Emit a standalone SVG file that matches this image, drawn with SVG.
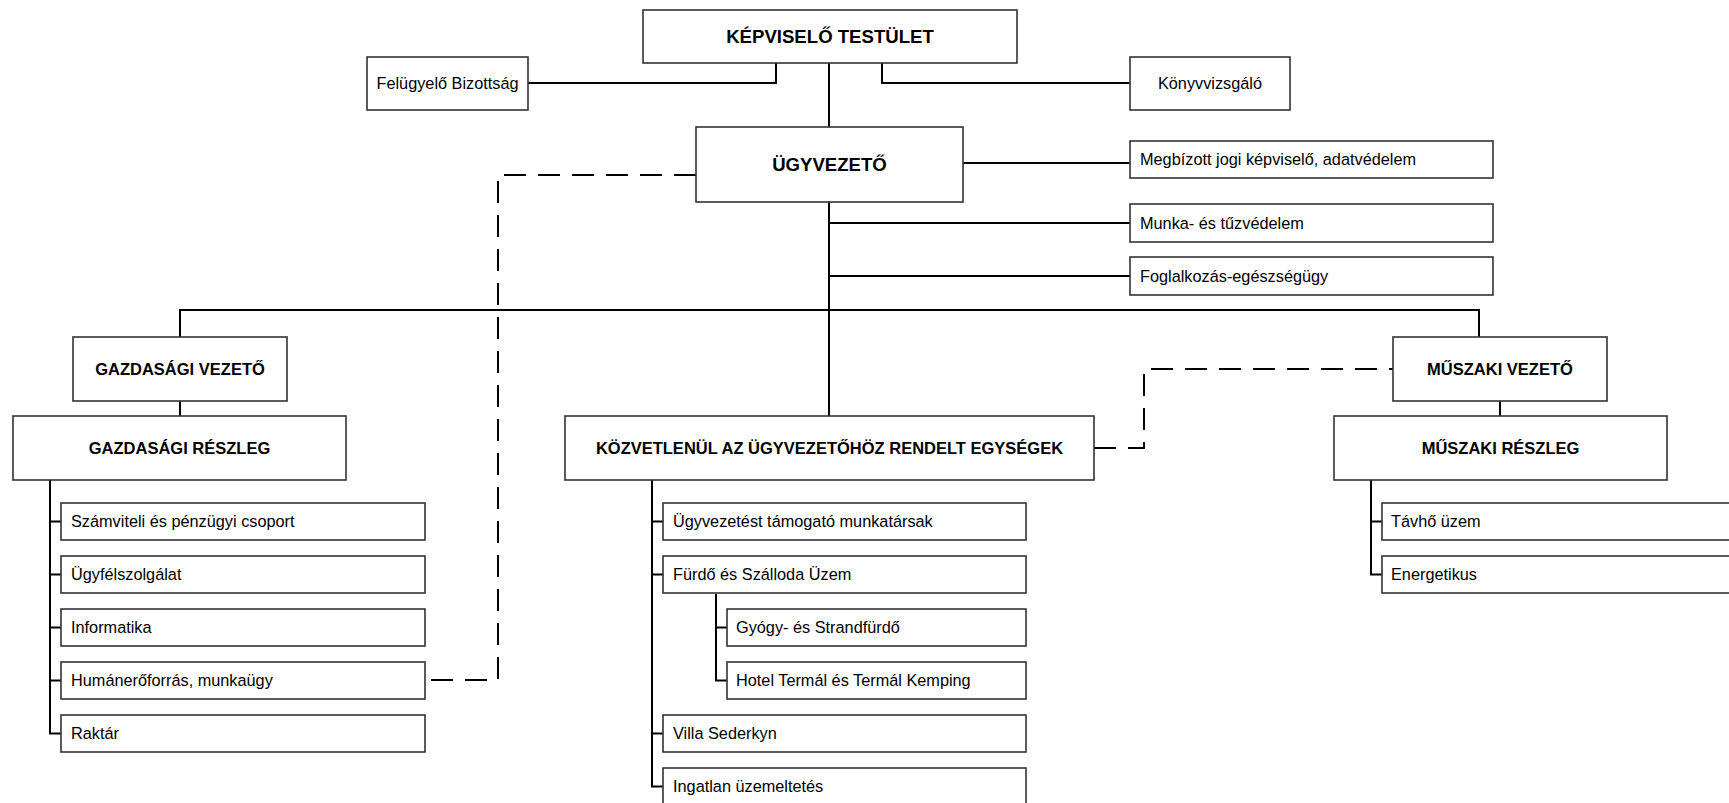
<svg xmlns="http://www.w3.org/2000/svg" width="1729" height="803" viewBox="0 0 1729 803">
<style>
rect{fill:#fff;stroke:#333;stroke-width:1.6}
text{font-family:"Liberation Sans",Arial,sans-serif;fill:#000}
.h{font-size:16.5px;font-weight:bold;text-anchor:middle}
.hb{font-size:18.6px}
.n{font-size:16.3px}
.c{text-anchor:middle}
.ln{fill:none;stroke:#000;stroke-width:2}
.ds{fill:none;stroke:#000;stroke-width:2;stroke-dasharray:22 12}
</style>
<g id="connectors">
<path class="ln" d="M829 63V127M776 63V83H528M882 63V83H1130M963 163H1130M829 202V416M829 223H1130M829 276H1130M180 337V310H1479V337M180 401V416M1500 401V416"/>
<path class="ln" d="M50 480V733.5H61M50 521.5H61M50 574.5H61M50 627.5H61M50 680.5H61"/>
<path class="ln" d="M652 480V786.5H663M652 521.5H663M652 574.5H663M652 733.5H663M716 594V680.5H727M716 627.5H727"/>
<path class="ln" d="M1371 480V574.5H1382M1371 521.5H1382"/>
<path class="ds" d="M696 175H498V680H425"/>
<path class="ds" d="M1094 448H1144V369H1393"/>
</g>
<g id="kt"><rect x="643" y="10" width="374" height="53"/><text class="h hb" x="830" y="43">KÉPVISELŐ TESTÜLET</text></g>
<g id="fb"><rect x="367" y="57" width="161" height="53"/><text class="n c" x="447.5" y="89">Felügyelő Bizottság</text></g>
<g id="kv"><rect x="1130" y="57" width="160" height="53"/><text class="n c" x="1210" y="89">Könyvvizsgáló</text></g>
<g id="ugy"><rect x="696" y="127" width="267" height="75"/><text class="h hb" x="829.5" y="171">ÜGYVEZETŐ</text></g>
<g id="megb"><rect x="1130" y="141" width="363" height="37"/><text class="n" x="1140" y="165">Megbízott jogi képviselő, adatvédelem</text></g>
<g id="munka"><rect x="1130" y="204" width="363" height="38"/><text class="n" x="1140" y="228.5">Munka- és tűzvédelem</text></g>
<g id="fogl"><rect x="1130" y="257" width="363" height="38"/><text class="n" x="1140" y="281.5">Foglalkozás-egészségügy</text></g>
<g id="gv"><rect x="73" y="337" width="214" height="64"/><text class="h" x="180" y="375">GAZDASÁGI VEZETŐ</text></g>
<g id="gr"><rect x="13" y="416" width="333" height="64"/><text class="h" x="179.5" y="454">GAZDASÁGI RÉSZLEG</text></g>
<g id="koz"><rect x="565" y="416" width="529" height="64"/><text class="h" x="829.5" y="454">KÖZVETLENÜL AZ ÜGYVEZETŐHÖZ RENDELT EGYSÉGEK</text></g>
<g id="mv"><rect x="1393" y="337" width="214" height="64"/><text class="h" x="1500" y="375">MŰSZAKI VEZETŐ</text></g>
<g id="mr"><rect x="1334" y="416" width="333" height="64"/><text class="h" x="1500.5" y="454">MŰSZAKI RÉSZLEG</text></g>
<g id="g1"><rect x="61" y="503" width="364" height="37"/><text class="n" x="71" y="527">Számviteli és pénzügyi csoport</text></g>
<g id="g2"><rect x="61" y="556" width="364" height="37"/><text class="n" x="71" y="580">Ügyfélszolgálat</text></g>
<g id="g3"><rect x="61" y="609" width="364" height="37"/><text class="n" x="71" y="633">Informatika</text></g>
<g id="g4"><rect x="61" y="662" width="364" height="37"/><text class="n" x="71" y="686">Humánerőforrás, munkaügy</text></g>
<g id="g5"><rect x="61" y="715" width="364" height="37"/><text class="n" x="71" y="739">Raktár</text></g>
<g id="k1"><rect x="663" y="503" width="363" height="37"/><text class="n" x="673" y="527">Ügyvezetést támogató munkatársak</text></g>
<g id="k2"><rect x="663" y="556" width="363" height="37"/><text class="n" x="673" y="580">Fürdő és Szálloda Üzem</text></g>
<g id="k21"><rect x="727" y="609" width="299" height="37"/><text class="n" x="736" y="633">Gyógy- és Strandfürdő</text></g>
<g id="k22"><rect x="727" y="662" width="299" height="37"/><text class="n" x="736" y="686">Hotel Termál és Termál Kemping</text></g>
<g id="k3"><rect x="663" y="715" width="363" height="37"/><text class="n" x="673" y="739">Villa Sederkyn</text></g>
<g id="k4"><rect x="663" y="768" width="363" height="40"/><text class="n" x="673" y="792">Ingatlan üzemeltetés</text></g>
<g id="m1"><rect x="1382" y="503" width="400" height="37"/><text class="n" x="1391" y="527">Távhő üzem</text></g>
<g id="m2"><rect x="1382" y="556" width="400" height="37"/><text class="n" x="1391" y="580">Energetikus</text></g>
</svg>
